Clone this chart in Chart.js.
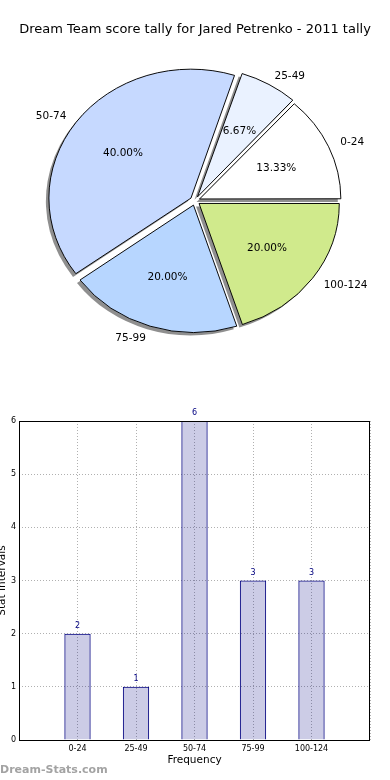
<!DOCTYPE html>
<html>
<head>
<meta charset="utf-8">
<script src="https://cdn.jsdelivr.net/npm/chart.js@4.4.1/dist/chart.umd.min.js"></script>
<style>
  html, body { margin: 0; padding: 0; background: #fff; }
  body { width: 390px; height: 780px; position: relative; overflow: hidden; }
  #pieBox { position: absolute; left: 0; top: 0; width: 390px; height: 390px; }
  #barBox { position: absolute; left: 0; top: 400px; width: 390px; height: 380px; }
  #mark { position: absolute; left: 0; top: 763px; font: bold 11px "DejaVu Sans", sans-serif; color: #a3a3a3; }
</style>
</head>
<body>
<div id="pieBox"><canvas id="pie"></canvas></div>
<div id="barBox"><canvas id="bar"></canvas></div>
<div id="mark">Dream-Stats.com</div>
<script>
const categories = ['0-24', '25-49', '50-74', '75-99', '100-124'];
const counts = [2, 1, 6, 3, 3];
const sliceColors = ['#ffffff', '#eaf2ff', '#c6d9ff', '#b7d6ff', '#d0ea8c'];
const yTicks = [0, 1, 2, 3, 4, 5, 6];

Chart.defaults.font.family = '"DejaVu Sans", sans-serif';
Chart.defaults.color = '#000';

// matplotlib draws counter-clockwise from 3 o'clock, Chart.js clockwise -> reverse
const pieOrder = categories.map((c, i) => i).reverse();
const total = counts.reduce((a, b) => a + b, 0);
const explodePx = 5;
const squish = 128 / 141; // the original pie is a bit flattened

const pieDecor = {
    id: 'pieDecor',
    beforeDatasetsDraw(chart) {
        const ctx = chart.ctx;
        const arcs = chart.getDatasetMeta(0).data;
        const cx = arcs[0].x, cy = arcs[0].y;

        // shadow, shifted down-left
        ctx.save();
        ctx.translate(-3, 3);
        ctx.translate(cx, cy); ctx.scale(1, squish); ctx.translate(-cx, -cy);
        ctx.fillStyle = '#8f8f8f';
        arcs.forEach(a => {
            const mid = (a.startAngle + a.endAngle) / 2;
            const off = a.options.offset / 4;
            const fix = 1 - Math.sin(Math.min(Math.PI, a.circumference));
            const r = a.outerRadius + off * fix;
            const x = a.x + Math.cos(mid) * off, y = a.y + Math.sin(mid) * off;
            ctx.beginPath();
            ctx.moveTo(x, y);
            ctx.arc(x, y, r, a.startAngle, a.endAngle);
            ctx.closePath();
            ctx.fill();
        });
        ctx.restore();

        ctx.save();
        ctx.translate(cx, cy); ctx.scale(1, squish); ctx.translate(-cx, -cy);
    },
    afterDatasetsDraw(chart) {
        const ctx = chart.ctx;
        ctx.restore();
        const arcs = chart.getDatasetMeta(0).data;
        ctx.save();
        ctx.fillStyle = '#000';
        ctx.font = '10.5px "DejaVu Sans"';
        ctx.textBaseline = 'middle';
        arcs.forEach((a, k) => {
            const i = pieOrder[k];
            const mid = (a.startAngle + a.endAngle) / 2;
            const off = a.options.offset / 4;
            const c = Math.cos(mid), s = Math.sin(mid);
            let d = off + 1.1 * a.outerRadius;
            ctx.textAlign = c > 0 ? 'left' : 'right';
            ctx.fillText(categories[i], a.x + c * d, a.y + s * d * squish);
            d = off + 0.6 * a.outerRadius;
            ctx.textAlign = 'center';
            ctx.fillText((counts[i] / total * 100).toFixed(2) + '%', a.x + c * d, a.y + s * d * squish);
        });
        ctx.restore();
    }
};

new Chart(document.getElementById('pie'), {
    type: 'pie',
    data: {
        labels: pieOrder.map(i => categories[i]),
        datasets: [{
            data: pieOrder.map(i => counts[i]),
            backgroundColor: pieOrder.map(i => sliceColors[i]),
            borderColor: '#000',
            borderWidth: 1,
            offset: explodePx * 4,
            clip: false
        }]
    },
    options: {
        animation: false,
        responsive: true,
        maintainAspectRatio: false,
        rotation: 90,
        radius: 140,
        layout: {padding: {top: 0, bottom: 38}},
        plugins: {
            legend: {display: false},
            tooltip: {enabled: false},
            title: {
                display: true,
                text: 'Dream Team score tally for Jared Petrenko - 2011 tally',
                color: '#000',
                font: {size: 13, weight: 'normal'},
                padding: {top: 22, bottom: 12}
            }
        }
    },
    plugins: [pieDecor]
});

const barDecor = {
    id: 'barDecor',
    afterDatasetsDraw(chart) {
        const ctx = chart.ctx;
        const a = chart.chartArea;
        ctx.save();
        ctx.strokeStyle = '#000';
        ctx.lineWidth = 1;
        ctx.strokeRect(Math.round(a.left) + 0.5, Math.round(a.top) + 0.5,
            Math.round(a.right - a.left) - 1, Math.round(a.bottom - a.top));
        ctx.fillStyle = '#000080';
        ctx.font = '8px "DejaVu Sans"';
        ctx.textAlign = 'center';
        ctx.textBaseline = 'bottom';
        chart.getDatasetMeta(0).data.forEach((bar, i) => {
            ctx.fillText(String(counts[i]), bar.x, bar.y - 4);
        });
        ctx.restore();
    }
};

new Chart(document.getElementById('bar'), {
    type: 'bar',
    data: {
        datasets: [{
            data: counts.map((v, i) => ({x: i, y: v})),
            backgroundColor: 'rgba(0,0,128,0.2)',
            borderColor: '#000080',
            borderWidth: 1,
            barPercentage: 0.45,
            categoryPercentage: 1
        }]
    },
    options: {
        animation: false,
        responsive: true,
        maintainAspectRatio: false,
        layout: {padding: {top: 21, right: 20, bottom: 0, left: 0}},
        plugins: {legend: {display: false}, tooltip: {enabled: false}},
        scales: {
            x: {
                type: 'linear',
                min: -1,
                max: 5,
                offset: false,
                afterFit: s => { s.height = 40; },
                afterBuildTicks: s => { s.ticks = [-1, 0, 1, 2, 3, 4, 5].map(v => ({value: v})); },
                ticks: {
                    autoSkip: false, maxRotation: 0, padding: 4,
                    font: {size: 8},
                    callback: v => categories[v] ?? ''
                },
                grid: {color: '#b0b0b0', drawTicks: false, offset: false},
                border: {display: false, dash: [1, 2]},
                title: {display: true, text: 'Frequency', font: {size: 10.5}, padding: {top: 0, bottom: 13}}
            },
            y: {
                min: 0,
                max: 6,
                afterFit: s => { s.width = 19; },
                afterBuildTicks: s => { s.ticks = yTicks.map(v => ({value: v})); },
                ticks: {padding: 3, font: {size: 8}},
                grid: {color: '#b0b0b0', drawTicks: false},
                border: {display: false, dash: [1, 2]},
                title: {display: true, text: 'Stat Intervals', font: {size: 10.5}, padding: {top: -4, bottom: 0}}
            }
        }
    },
    plugins: [barDecor]
});
</script>
</body>
</html>
